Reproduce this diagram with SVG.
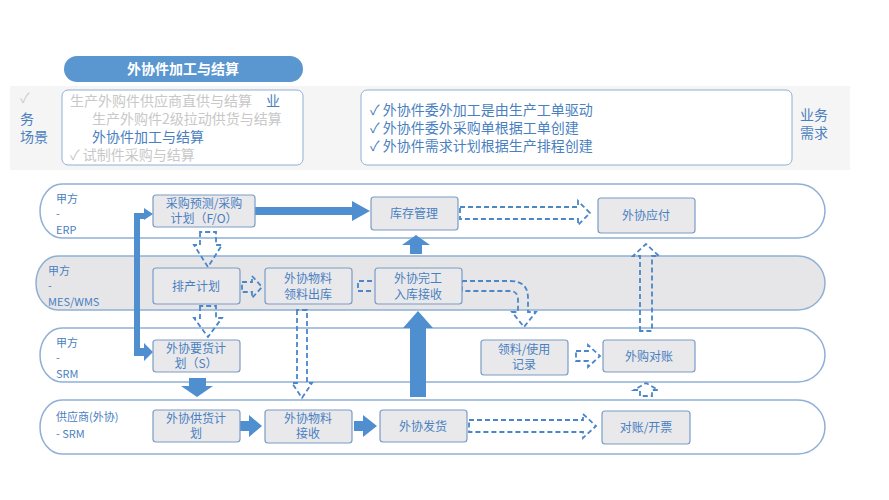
<svg xmlns="http://www.w3.org/2000/svg" width="889" height="500" viewBox="0 0 889 500">
<defs>
<style>
text{font-family:"Microsoft YaHei","Noto Sans CJK SC",sans-serif;}
.lane{stroke:#8fb0d6;stroke-width:1.5}
.nd{fill:#e9e9ec;stroke:#7a9cc6;stroke-width:1.2}
.nt{font-size:12px;fill:#4a7fbf;text-anchor:middle}
.lt{font-size:11px;fill:#4a7fbf}
.ht{font-size:14px}
.da{fill:none;stroke:#4a86c8;stroke-width:1.8;stroke-dasharray:5 3}
.sa{fill:#4f8fd0;stroke:none}
</style>
</defs>
<rect width="889" height="500" fill="#fff"/>
<g id="header">
<rect x="64" y="56" width="239" height="26" rx="13" fill="#5a96d0"/>
<text x="183" y="74" font-size="14" font-weight="bold" fill="#fff" text-anchor="middle">外协件加工与结算</text>
<rect x="10" y="86" width="840" height="84" fill="#f5f5f5"/>
<rect x="62" y="90" width="241" height="75" rx="6" fill="#fff" stroke="#8fb0d6"/>
<text x="20" y="103" class="ht" fill="#ccc">✓</text>
<text x="20" y="124" class="ht" fill="#4a7fbf">务</text>
<text x="20" y="142" class="ht" fill="#4a7fbf">场景</text>
<text x="70" y="106" class="ht" fill="#c8c8c8">生产外购件供应商直供与结算</text>
<text x="266" y="106" class="ht" fill="#4a7fbf">业</text>
<text x="92" y="124" class="ht" fill="#c8c8c8">生产外购件2级拉动供货与结算</text>
<text x="92" y="142" class="ht" fill="#4a7fbf">外协件加工与结算</text>
<text x="70" y="160" class="ht" fill="#c8c8c8">✓  试制件采购与结算</text>
<rect x="361" y="90" width="431" height="75" rx="6" fill="#fff" stroke="#8fb0d6"/>
<text x="370" y="115" class="ht" fill="#4a7fbf">✓  外协件委外加工是由生产工单驱动</text>
<text x="370" y="133" class="ht" fill="#4a7fbf">✓  外协件委外采购单根据工单创建</text>
<text x="370" y="151" class="ht" fill="#4a7fbf">✓  外协件需求计划根据生产排程创建</text>
<text x="800" y="120" class="ht" fill="#4a7fbf">业务</text>
<text x="800" y="138" class="ht" fill="#4a7fbf">需求</text>
</g>
<g id="lanes">
<path class="lane" fill="#fff" d="M62,184 H798 A27,27 0 0 1 798,238 H62 A22,27 0 0 1 62,184Z"/>
<path class="lane" fill="#e6e6e8" d="M58,256 H798 A27,27 0 0 1 798,310 H58 A22,27 0 0 1 58,256Z"/>
<path class="lane" fill="#fff" d="M62,328 H798 A27,27 0 0 1 798,382 H62 A22,27 0 0 1 62,328Z"/>
<path class="lane" fill="#fff" d="M62,400 H798 A27,27 0 0 1 798,454 H62 A22,27 0 0 1 62,400Z"/>
<text class="lt" x="56" y="203">甲方</text><text class="lt" x="56" y="218">-</text><text class="lt" x="56" y="234">ERP</text>
<text class="lt" x="48" y="275">甲方</text><text class="lt" x="48" y="290">-</text><text class="lt" x="48" y="306">MES/WMS</text>
<text class="lt" x="56" y="347">甲方</text><text class="lt" x="56" y="362">-</text><text class="lt" x="56" y="378">SRM</text>
<text class="lt" x="56" y="421">供应商(外协)</text><text class="lt" x="56" y="438">- SRM</text>
</g>
<g id="connectors">
<path class="sa" d="M255,207 H352 V201 L370,211 L352,221 V215 H255Z"/>
<path class="sa" d="M134,213 H144 V208 L153,214 L144,220 V219 H140 V348 H144 V343 L153,352 L144,361 V356 H134Z"/>
<path class="sa" d="M189,378 H206 V386 H213 L197,397 L181,386 H189Z"/>
<path class="sa" d="M240,421 H249 V415 L262,426 L249,437 V431 H240Z"/>
<path class="sa" d="M354,421 H363 V415 L377,426 L363,437 V431 H354Z"/>
<path class="sa" d="M410,397 V328 H403 L418,311 L433,328 H426 V397Z"/>
<path class="sa" d="M410,254 V245 H402 L416,235 L430,245 H422 V254Z"/>
<path class="da" d="M200,232 V245 H194 L208,267 L222,245 H216 V232Z"/>
<path class="da" d="M200,306 V318 H194 L208,337 L222,318 H216 V306Z"/>
<path class="da" d="M242,282 H252 V276 L262,287 L252,298 V292 H242Z"/>
<path class="da" d="M297,310 V383 H292 L302,398 L312,383 H307 V310Z"/>
<path class="da" d="M372,281 H358 V291 H372"/>
<path class="da" d="M460,207 H578 V201 L590,213 L578,225 V219 H460Z"/>
<path class="da" d="M462,281 H510 Q528,281 528,298 V312 H536 L524,327 L512,312 H518 V300 Q518,291 510,291 H462Z"/>
<path class="da" d="M576,351 H588 V345 L600,356 L588,367 V361 H576Z"/>
<path class="da" d="M640,331 V256 H633 L646,244 L659,256 H652 V331Z"/>
<path class="da" d="M640,396 V390 H634 L646,383 L658,390 H652 V396Z"/>
<path class="da" d="M469,420 H583 V414 L596,426 L583,438 V432 H469Z"/>
</g>
<g id="n1"><rect class="nd" x="153" y="195" width="102" height="32" rx="3"/><text class="nt" x="204" y="208">采购预测/采购</text><text class="nt" x="204" y="223">计划（F/O）</text></g>
<g id="n2"><rect class="nd" x="371" y="197" width="87" height="33" rx="3"/><text class="nt" x="414" y="218">库存管理</text></g>
<g id="n3"><rect class="nd" x="598" y="198" width="97" height="35" rx="3"/><text class="nt" x="646" y="220">外协应付</text></g>
<g id="n4"><rect class="nd" x="153" y="268" width="87" height="36" rx="3"/><text class="nt" x="196" y="291">排产计划</text></g>
<g id="n5"><rect class="nd" x="265" y="268" width="87" height="36" rx="3"/><text class="nt" x="308" y="283">外协物料</text><text class="nt" x="308" y="299">领料出库</text></g>
<g id="n6"><rect class="nd" x="375" y="268" width="87" height="36" rx="3"/><text class="nt" x="418" y="283">外协完工</text><text class="nt" x="418" y="299">入库接收</text></g>
<g id="n7"><rect class="nd" x="153" y="340" width="87" height="32" rx="3"/><text class="nt" x="196" y="353">外协要货计</text><text class="nt" x="196" y="368">划（S）</text></g>
<g id="n8"><rect class="nd" x="481" y="340" width="87" height="35" rx="3"/><text class="nt" x="524" y="354">领料/使用</text><text class="nt" x="524" y="369">记录</text></g>
<g id="n9"><rect class="nd" x="603" y="340" width="92" height="32" rx="3"/><text class="nt" x="649" y="361">外购对账</text></g>
<g id="n10"><rect class="nd" x="153" y="410" width="87" height="32" rx="3"/><text class="nt" x="196" y="423">外协供货计</text><text class="nt" x="196" y="438">划</text></g>
<g id="n11"><rect class="nd" x="265" y="410" width="87" height="33" rx="3"/><text class="nt" x="308" y="423">外协物料</text><text class="nt" x="308" y="438">接收</text></g>
<g id="n12"><rect class="nd" x="380" y="410" width="87" height="32" rx="3"/><text class="nt" x="423" y="431">外协发货</text></g>
<g id="n13"><rect class="nd" x="602" y="411" width="88" height="33" rx="3"/><text class="nt" x="646" y="432">对账/开票</text></g>
</svg>
